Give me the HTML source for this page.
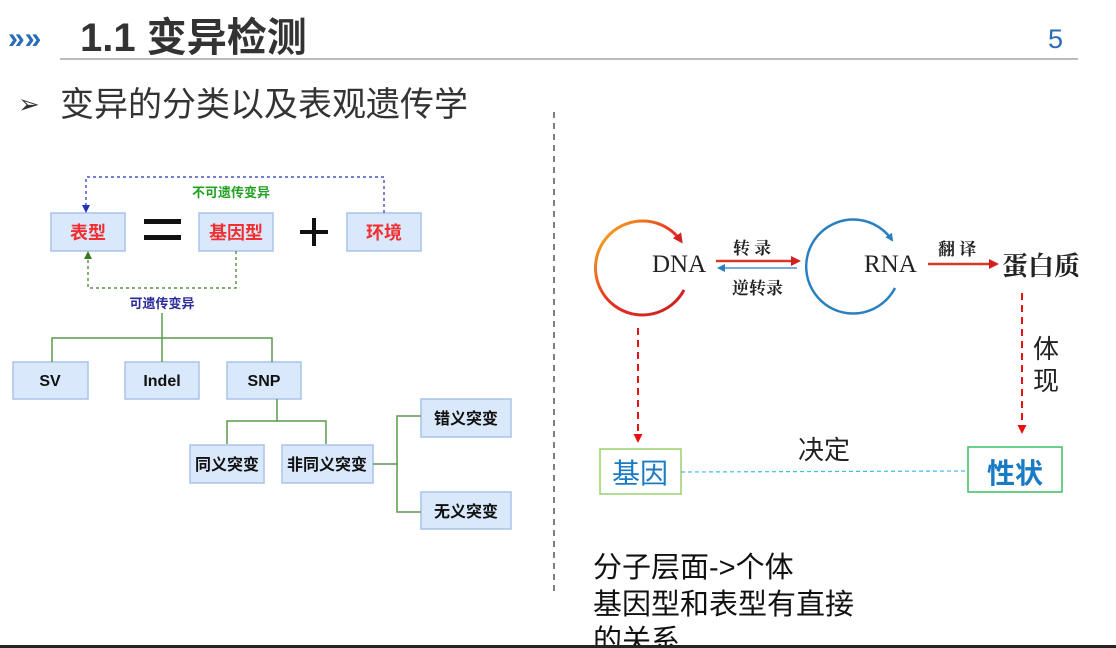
<!DOCTYPE html>
<html><head><meta charset="utf-8"><style>
html,body{margin:0;padding:0;background:#fff;width:1116px;height:648px;overflow:hidden}
svg{display:block}
</style></head><body>
<svg width="1116" height="648" viewBox="0 0 1116 648" xmlns="http://www.w3.org/2000/svg" font-family="Liberation Sans, Noto Sans CJK SC, sans-serif">
<defs>
<marker id="ab" markerUnits="userSpaceOnUse" markerWidth="8" markerHeight="8" refX="6" refY="4" orient="auto"><path d="M0,0L8,4L0,8z" fill="#2233bb"/></marker>
<marker id="ag" markerUnits="userSpaceOnUse" markerWidth="8" markerHeight="8" refX="6" refY="4" orient="auto"><path d="M0,0L8,4L0,8z" fill="#3a7a20"/></marker>
<marker id="ar" markerUnits="userSpaceOnUse" markerWidth="9" markerHeight="9" refX="7" refY="4.5" orient="auto"><path d="M0,0L9,4.5L0,9z" fill="#e81010"/></marker>
<marker id="ar2" markerUnits="userSpaceOnUse" markerWidth="10" markerHeight="10" refX="7" refY="5" orient="auto"><path d="M0,0L10,5L0,10z" fill="#d42020"/></marker>
<marker id="abl" markerUnits="userSpaceOnUse" markerWidth="8" markerHeight="8" refX="6" refY="4" orient="auto"><path d="M0,0L8,4L0,8z" fill="#2a7fc0"/></marker>
<linearGradient id="gr" x1="0" y1="0" x2="1" y2="1"><stop offset="0" stop-color="#f5c020"/><stop offset="0.5" stop-color="#e83020"/><stop offset="1" stop-color="#c82020"/></linearGradient>
</defs>
<text x="8" y="48" font-size="30" font-weight="bold" fill="#2a6db5">»»</text>
<text x="80" y="51" font-size="40" font-weight="bold" fill="#333">1.1 变异检测</text>
<text x="1048" y="48" font-size="27" fill="#2a6db5">5</text>
<line x1="60" y1="59" x2="1078" y2="59" stroke="#bbb" stroke-width="2"/>
<text x="18" y="113" font-size="26" fill="#333">➢</text>
<text x="60" y="116" font-size="34" fill="#333">变异的分类以及表观遗传学</text>
<line x1="554" y1="112" x2="554" y2="595" stroke="#555" stroke-width="1.5" stroke-dasharray="6,5"/>
<g stroke="#a9c4eb" stroke-width="1.5" fill="#dae8fc">
<rect x="51" y="213" width="74" height="38"/><rect x="199" y="213" width="74" height="38"/><rect x="347" y="213" width="74" height="38"/>
<rect x="13" y="362" width="75" height="37"/><rect x="125" y="362" width="74" height="37"/><rect x="227" y="362" width="74" height="37"/>
<rect x="190" y="445" width="74" height="38"/><rect x="282" y="445" width="91" height="38"/>
<rect x="421" y="399" width="90" height="38"/><rect x="421" y="492" width="90" height="37"/>
</g>
<g font-size="18" font-weight="bold" fill="#f03030" text-anchor="middle">
<text x="88" y="239">表型</text><text x="236" y="239">基因型</text><text x="384" y="239">环境</text>
</g>
<rect x="144" y="219" width="37" height="5" fill="#111"/><rect x="144" y="235" width="37" height="5" fill="#111"/>
<rect x="300" y="230" width="28" height="4" fill="#111"/><rect x="312" y="218" width="4" height="28" fill="#111"/>
<polyline points="384,213 384,177 86,177 86,211" fill="none" stroke="#2233bb" stroke-width="1.2" stroke-dasharray="3,3" marker-end="url(#ab)"/>
<polyline points="236,251 236,288 88,288 88,253" fill="none" stroke="#3a7a20" stroke-width="1.2" stroke-dasharray="3,3" marker-end="url(#ag)"/>
<text x="231" y="197" font-size="13" font-weight="bold" fill="#22a022" text-anchor="middle">不可遗传变异</text>
<text x="162" y="308" font-size="13" font-weight="bold" fill="#2a2a99" text-anchor="middle">可遗传变异</text>
<g fill="none" stroke="#5a9a4a" stroke-width="1.5">
<polyline points="162,313 162,362"/><polyline points="52,362 52,338 272,338 272,362"/>
<polyline points="277,399 277,421"/><polyline points="227,444 227,421 326,421 326,444"/>
<polyline points="373,464 397,464"/><polyline points="421,416 397,416 397,512 421,512"/>
</g>
<g font-size="16" font-weight="bold" fill="#111" text-anchor="middle">
<text x="50" y="386">SV</text><text x="162" y="386">Indel</text><text x="264" y="386">SNP</text>
<text x="227" y="470">同义突变</text><text x="327" y="470">非同义突变</text>
<text x="466" y="424">错义突变</text><text x="466" y="517">无义突变</text>
</g>
<path d="M684,290 A47,47 0 1 1 681,241" fill="none" stroke="url(#gr)" stroke-width="3" marker-end="url(#ar2)"/>
<path d="M895,288 A47,47 0 1 1 892,240" fill="none" stroke="#2a7fc0" stroke-width="2.5" marker-end="url(#abl)"/>
<g font-family="Liberation Serif, Noto Serif CJK SC, serif" fill="#222">
<text x="652" y="272" font-size="25">DNA</text>
<text x="864" y="272" font-size="25">RNA</text>
<text x="1002" y="275" font-size="26" font-weight="bold">蛋白质</text>
<text x="733" y="254" font-size="17" font-weight="bold">转 录</text>
<text x="732" y="294" font-size="17" font-weight="bold">逆转录</text>
<text x="938" y="255" font-size="17" font-weight="bold">翻 译</text>
</g>
<line x1="716" y1="261" x2="798" y2="261" stroke="#d43a2a" stroke-width="2.5" marker-end="url(#ar2)"/>
<line x1="797" y1="268" x2="719" y2="268" stroke="#4a8fd0" stroke-width="1.5" marker-end="url(#abl)"/>
<line x1="928" y1="264" x2="996" y2="264" stroke="#d43a2a" stroke-width="2.5" marker-end="url(#ar2)"/>
<line x1="638" y1="328" x2="638" y2="441" stroke="#e81010" stroke-width="2" stroke-dasharray="7,5" marker-end="url(#ar)"/>
<line x1="1022" y1="293" x2="1022" y2="432" stroke="#e81010" stroke-width="2" stroke-dasharray="7,5" marker-end="url(#ar)"/>
<text x="1033" y="358" font-size="26" fill="#222">体</text>
<text x="1033" y="390" font-size="26" fill="#222">现</text>
<rect x="600" y="449" width="81" height="45" fill="none" stroke="#9bd06a" stroke-width="1.5"/>
<rect x="968" y="447" width="94" height="45" fill="none" stroke="#3cc060" stroke-width="1.5"/>
<text x="640" y="483" font-size="28" fill="#1a7bc5" text-anchor="middle">基因</text>
<text x="1015" y="483" font-size="28" font-weight="bold" fill="#1a7bc5" text-anchor="middle">性状</text>
<line x1="681" y1="472" x2="968" y2="471" stroke="#3cbce8" stroke-width="1.2" stroke-dasharray="4,3"/>
<text x="798" y="459" font-size="26" fill="#222">决定</text>
<g font-size="29" fill="#111">
<text x="593" y="577">分子层面-&gt;个体</text>
<text x="593" y="614">基因型和表型有直接</text>
<text x="593" y="650">的关系</text>
</g>
<rect x="0" y="645" width="1116" height="3" fill="#2a2222"/>
</svg>
</body></html>
